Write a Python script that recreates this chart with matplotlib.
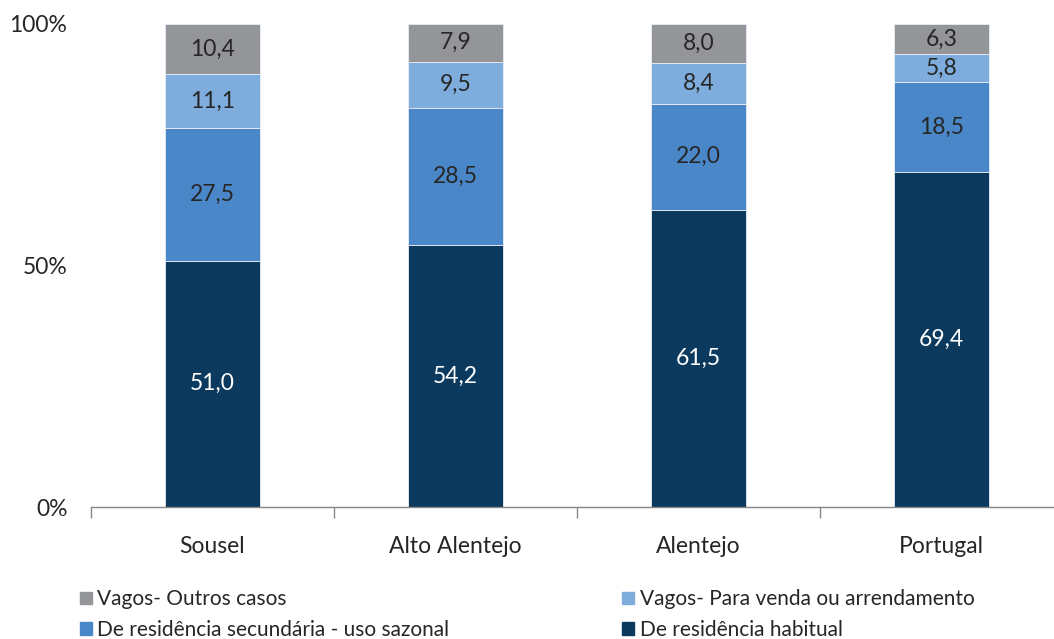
import matplotlib.pyplot as plt
from matplotlib.patches import Patch

plt.rcParams['font.family'] = ['Lato', 'DejaVu Sans']

# Dados (%)
regioes = ['Sousel', 'Alto Alentejo', 'Alentejo', 'Portugal']
habitual = [51.0, 54.2, 61.5, 69.4]
secundaria = [27.5, 28.5, 22.0, 18.5]
venda = [11.1, 9.5, 8.4, 5.8]
outros = [10.4, 7.9, 8.0, 6.3]

series = [
    ('De residência habitual', habitual, '#0b3a5e', 'white'),
    ('De residência secundária - uso sazonal', secundaria, '#4a87c8', '#262626'),
    ('Vagos- Para venda ou arrendamento', venda, '#7eaddd', '#262626'),
    ('Vagos- Outros casos', outros, '#939598', '#262626'),
]

fig = plt.figure(figsize=(10.54, 6.39), dpi=100)
ax = fig.add_axes([91 / 1054, 132 / 639, 972 / 1054, 483 / 639])

x = list(range(len(regioes)))
base = [0.0] * len(regioes)
for nome, vals, cor, cor_txt in series:
    ax.bar(x, vals, bottom=base, width=0.395, color=cor, edgecolor='#e8eef5', linewidth=0.6)
    for i, v in enumerate(vals):
        ax.text(i, base[i] + v / 2, f'{v:.1f}'.replace('.', ','), ha='center', va='center',
                fontsize=16.5, color=cor_txt)
    base = [b + v for b, v in zip(base, vals)]

ax.set_xlim(-0.5, 3.5)
ax.set_ylim(0, 100)
ax.set_yticks([0, 50, 100])
ax.set_yticklabels(['0%', '50%', '100%'], fontsize=16.5, color='#262626')
ax.tick_params(axis='y', length=0, pad=17)
ax.set_xticks(x)
ax.set_xticklabels(regioes, fontsize=16.5, color='#262626')
ax.tick_params(axis='x', length=0, pad=21)
# marcas entre categorias
ax.set_xticks([-0.5, 0.5, 1.5, 2.5, 3.5], minor=True)
ax.tick_params(axis='x', which='minor', length=8, color='#868686', width=1)

for s in ['top', 'right', 'left']:
    ax.spines[s].set_visible(False)
ax.spines['bottom'].set_color('#868686')
ax.spines['bottom'].set_linewidth(1)

handles = [
    Patch(color='#939598', label='Vagos- Outros casos'),
    Patch(color='#4a87c8', label='De residência secundária - uso sazonal'),
    Patch(color='#7eaddd', label='Vagos- Para venda ou arrendamento'),
    Patch(color='#0b3a5e', label='De residência habitual'),
]
leg = fig.legend(handles=handles, ncol=2, loc='upper left', bbox_to_anchor=(72 / 1054, 1 - 581 / 639),
                 frameon=False, fontsize=15, handlelength=0.55, handleheight=0.55,
                 handletextpad=0.27, columnspacing=8.3, labelspacing=0.5, borderaxespad=0)
for t in leg.get_texts():
    t.set_color('#262626')

fig.savefig('out.png', dpi=100)
